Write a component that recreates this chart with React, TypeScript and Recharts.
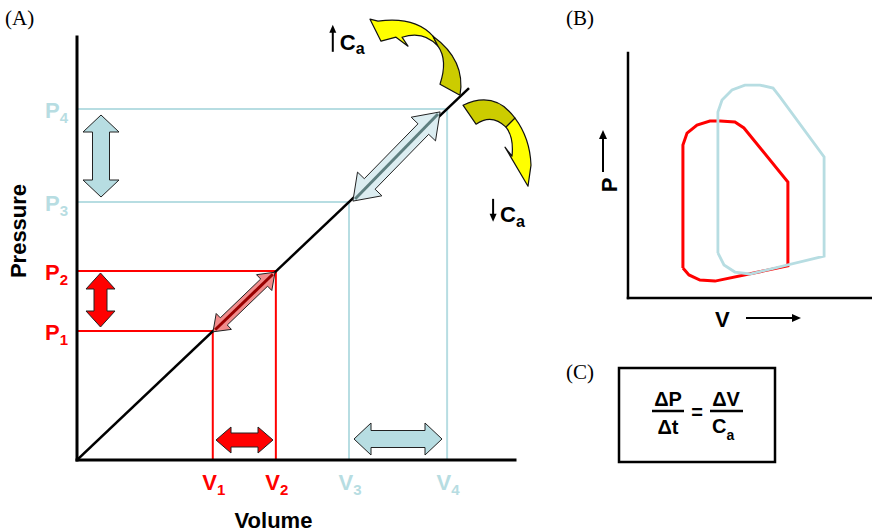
import React from 'react';
import {
  ComposedChart,
  LineChart,
  Line,
  XAxis,
  YAxis,
  ReferenceLine,
  ReferenceArea,
  ReferenceDot,
} from 'recharts';

// ---------- Panel A data (arbitrary units) ----------
const volumeLevels = [31.0, 45.4, 62.1, 84.5]; // V1..V4
const pressureLevels = [30.5, 44.7, 61.0, 83.0]; // P1..P4
const levelSubscripts = ['1', '2', '3', '4'];
const complianceLine = [
  { v: 0, p: 0 },
  { v: 89.5, p: 87.9 },
];

// ---------- Panel B data (P-V loops) ----------
const redLoop = [
  { x: 22.6, y: 12.2 },
  { x: 22.6, y: 62.4 },
  { x: 24.3, y: 67.3 },
  { x: 28.4, y: 70.6 },
  { x: 33.7, y: 72.2 },
  { x: 37.9, y: 72.2 },
  { x: 44.0, y: 71.8 },
  { x: 47.7, y: 69.4 },
  { x: 65.8, y: 47.3 },
  { x: 65.8, y: 13.1 },
  { x: 35.8, y: 6.9 },
  { x: 29.6, y: 7.3 },
  { x: 25.1, y: 9.4 },
  { x: 22.6, y: 12.2 },
];
const blueLoop = [
  { x: 37.0, y: 18.4 },
  { x: 37.0, y: 75.9 },
  { x: 38.7, y: 80.8 },
  { x: 42.8, y: 84.9 },
  { x: 48.1, y: 86.9 },
  { x: 54.3, y: 86.9 },
  { x: 59.7, y: 85.7 },
  { x: 62.6, y: 82.0 },
  { x: 80.7, y: 57.6 },
  { x: 80.7, y: 17.1 },
  { x: 50.2, y: 9.8 },
  { x: 44.0, y: 10.6 },
  { x: 39.5, y: 13.5 },
  { x: 37.0, y: 18.4 },
];

// ---------- styles ----------
const SANS = "'Liberation Sans', Arial, Helvetica, sans-serif";
const SERIF = "'Liberation Serif', 'Times New Roman', serif";
const RED = '#ff0000';
const BLUE = '#b7dde2';
const levelColors = [RED, RED, BLUE, BLUE];

const nearestIndex = (arr: number[], v: number) => {
  let best = 0;
  arr.forEach((a, i) => {
    if (Math.abs(a - v) < Math.abs(arr[best] - v)) best = i;
  });
  return best;
};

const YTick = (props: any) => {
  const { x, y, payload } = props;
  const i = nearestIndex(pressureLevels, Number(payload.value));
  return (
    <text x={x - 1} y={y + 9} textAnchor="end" fill={levelColors[i]} fontFamily={SANS} fontWeight="bold" fontSize={22}>
      P
      <tspan fontSize={15} dy={5}>
        {levelSubscripts[i]}
      </tspan>
    </text>
  );
};

const XTick = (props: any) => {
  const { x, y, payload } = props;
  const i = nearestIndex(volumeLevels, Number(payload.value));
  return (
    <text x={x + 1} y={y + 22} textAnchor="middle" fill={levelColors[i]} fontFamily={SANS} fontWeight="bold" fontSize={22}>
      V
      <tspan fontSize={15} dy={5}>
        {levelSubscripts[i]}
      </tspan>
    </text>
  );
};

function dblArrowPoints(ax: number, ay: number, bx: number, by: number, shaftW: number, headW: number, headL: number) {
  const dx = bx - ax;
  const dy = by - ay;
  const L = Math.hypot(dx, dy) || 1;
  const ux = dx / L;
  const uy = dy / L;
  const nx = -uy;
  const ny = ux;
  const p = (t: number, s: number) => [ax + ux * t + nx * s, ay + uy * t + ny * s];
  const pts = [
    p(0, 0),
    p(headL, headW / 2),
    p(headL, shaftW / 2),
    p(L - headL, shaftW / 2),
    p(L - headL, headW / 2),
    p(L, 0),
    p(L - headL, -headW / 2),
    p(L - headL, -shaftW / 2),
    p(headL, -shaftW / 2),
    p(headL, -headW / 2),
  ];
  return { pts: pts.map((q) => q.map((v) => v.toFixed(1)).join(',')).join(' '), p, L };
}

type ArrowOpts = {
  dir: 'v' | 'h' | 'd';
  fill: string;
  shaftW: number;
  headL: number;
  headW?: number;
  center?: string;
};

const makeArrow = (o: ArrowOpts) => (props: any) => {
  const { x, y, width, height } = props;
  if ([x, y, width, height].some((v) => typeof v !== 'number' || isNaN(v))) return <g />;
  let ax: number, ay: number, bx: number, by: number, headW: number;
  if (o.dir === 'v') {
    ax = bx = x + width / 2;
    ay = y + height;
    by = y;
    headW = width;
  } else if (o.dir === 'h') {
    ay = by = y + height / 2;
    ax = x;
    bx = x + width;
    headW = height;
  } else {
    ax = x;
    ay = y + height;
    bx = x + width;
    by = y;
    headW = o.headW || 20;
  }
  const { pts, p, L } = dblArrowPoints(ax, ay, bx, by, o.shaftW, headW, o.headL);
  const c1 = p(3, 0);
  const c2 = p(L - 3, 0);
  return (
    <g>
      <polygon points={pts} fill={o.fill} stroke="#222" strokeWidth={1} strokeLinejoin="miter" />
      {o.center && <line x1={c1[0]} y1={c1[1]} x2={c2[0]} y2={c2[1]} stroke={o.center} strokeWidth={3} />}
    </g>
  );
};

type Seg = [string, ...number[]];
const buildPath = (cx: number, cy: number, segs: Seg[]) =>
  segs
    .map(([c, ...n]) => c + ' ' + n.map((v, i) => (i % 2 === 0 ? cx + v : cy + v).toFixed(1)).join(' '))
    .join(' ');

const YELLOW = '#ffff00';
const OLIVE = '#cccc00';

const upperBright: Seg[] = [
  ['M', -99, -69],
  ['L', -88, -47],
  ['L', -73, -51],
  ['L', -61, -42],
  ['L', -67, -51],
  ['Q', -45, -58, -31, -42],
  ['L', -36, -52],
  ['Q', -54, -72, -91, -67],
  ['Z'],
];
const upperDark: Seg[] = [
  ['M', -36, -52],
  ['Q', -3, -28, -9, 7],
  ['L', -29, -4],
  ['Q', -21, -28, -31, -42],
  ['Z'],
];
const lowerDark: Seg[] = [
  ['M', -6, 17],
  ['Q', 26, 2, 46, 30],
  ['L', 37, 39],
  ['Q', 23, 25, 7, 36],
  ['Z'],
];
const lowerBright: Seg[] = [
  ['M', 46, 30],
  ['Q', 61, 50, 62, 77],
  ['L', 59, 98],
  ['L', 36, 59],
  ['L', 43, 68],
  ['Q', 45, 49, 37, 39],
  ['Z'],
];

const CurvedArrows = (props: any) => {
  const { cx, cy } = props;
  if (typeof cx !== 'number' || typeof cy !== 'number') return <g />;
  const common = { stroke: '#111', strokeWidth: 1.2, strokeLinejoin: 'round' as const };
  return (
    <g>
      <path d={buildPath(cx, cy, upperBright)} fill={YELLOW} {...common} />
      <path d={buildPath(cx, cy, upperDark)} fill={OLIVE} {...common} />
      <path d={buildPath(cx, cy, lowerDark)} fill={OLIVE} {...common} />
      <path d={buildPath(cx, cy, lowerBright)} fill={YELLOW} {...common} />
    </g>
  );
};

const CaUp = (props: any) => {
  const { cx, cy } = props;
  if (typeof cx !== 'number') return <g />;
  return (
    <g>
      <line x1={cx} y1={cy} x2={cx} y2={cy - 21} stroke="#000" strokeWidth={2} />
      <polygon points={`${cx - 3.5},${cy - 19} ${cx + 3.5},${cy - 19} ${cx},${cy - 27}`} fill="#000" />
      <text x={cx + 7} y={cy - 2} fontFamily={SANS} fontWeight="bold" fontSize={22} fill="#000">
        C
        <tspan fontSize={16} dy={4}>
          a
        </tspan>
      </text>
    </g>
  );
};

const CaDown = (props: any) => {
  const { cx, cy } = props;
  if (typeof cx !== 'number') return <g />;
  return (
    <g>
      <line x1={cx} y1={cy - 23} x2={cx} y2={cy - 6} stroke="#000" strokeWidth={2} />
      <polygon points={`${cx - 3.5},${cy - 8} ${cx + 3.5},${cy - 8} ${cx},${cy}`} fill="#000" />
      <text x={cx + 7} y={cy} fontFamily={SANS} fontWeight="bold" fontSize={22} fill="#000">
        C
        <tspan fontSize={16} dy={5}>
          a
        </tspan>
      </text>
    </g>
  );
};

const axisStroke = { stroke: '#000', strokeWidth: 3, strokeLinecap: 'square' as const };

const PanelA = () => {
  const [V1, V2, V3, V4] = volumeLevels;
  const [P1, P2, P3, P4] = pressureLevels;
  const guide = (v: number, p: number, color: string, k: string) => [
    <ReferenceLine
      key={k + 'h'}
      segment={[
        { x: 0, y: p },
        { x: v, y: p },
      ]}
      stroke={color}
      strokeWidth={2}
      ifOverflow="visible"
      zIndex={300}
    />,
    <ReferenceLine
      key={k + 'v'}
      segment={[
        { x: v, y: p },
        { x: v, y: 0 },
      ]}
      stroke={color}
      strokeWidth={2}
      ifOverflow="visible"
      zIndex={300}
    />,
  ];
  return (
    <ComposedChart width={560} height={532} margin={{ top: 37, right: 45, bottom: 42, left: 17 }}>
      <XAxis
        type="number"
        dataKey="v"
        domain={[0, 100]}
        allowDataOverflow
        ticks={volumeLevels}
        interval={0}
        tick={<XTick />}
        tickLine={false}
        tickSize={6}
        tickMargin={2}
        height={30}
        axisLine={axisStroke}
      />
      <YAxis
        type="number"
        domain={[0, 100]}
        allowDataOverflow
        ticks={pressureLevels}
        interval={0}
        tick={<YTick />}
        tickLine={false}
        tickSize={6}
        tickMargin={2}
        width={60}
        axisLine={axisStroke}
      />
      {guide(V4, P4, BLUE, 'g4')}
      {guide(V3, P3, BLUE, 'g3')}
      {guide(V2, P2, RED, 'g2')}
      {guide(V1, P1, RED, 'g1')}
      <Line
        data={complianceLine}
        dataKey="p"
        type="linear"
        stroke="#000"
        strokeWidth={2.5}
        dot={false}
        activeDot={false}
        isAnimationActive={false}
        zIndex={400}
      />
      {/* vertical pressure-change arrows */}
      <ReferenceArea
        x1={1.37}
        x2={9.59}
        y1={62.17}
        y2={81.56}
        ifOverflow="visible"
        zIndex={600}
        shape={makeArrow({ dir: 'v', fill: BLUE, shaftW: 17, headL: 17 })}
      />
      <ReferenceArea
        x1={2.05}
        x2={8.68}
        y1={31.44}
        y2={44.21}
        ifOverflow="visible"
        zIndex={600}
        shape={makeArrow({ dir: 'v', fill: RED, shaftW: 13, headL: 16 })}
      />
      {/* horizontal volume-change arrows */}
      <ReferenceArea
        x1={31.74}
        x2={44.75}
        y1={1.65}
        y2={7.8}
        ifOverflow="visible"
        zIndex={600}
        shape={makeArrow({ dir: 'h', fill: RED, shaftW: 14, headL: 15 })}
      />
      <ReferenceArea
        x1={63.24}
        x2={83.33}
        y1={1.18}
        y2={8.75}
        ifOverflow="visible"
        zIndex={600}
        shape={makeArrow({ dir: 'h', fill: BLUE, shaftW: 17, headL: 17 })}
      />
      {/* diagonal arrows along the compliance line */}
      <ReferenceArea
        x1={31.05}
        x2={45.2}
        y1={30.3}
        y2={44.4}
        ifOverflow="visible"
        zIndex={600}
        shape={makeArrow({ dir: 'd', fill: '#f28c8c', shaftW: 10, headL: 15, headW: 22, center: '#990000' })}
      />
      <ReferenceArea
        x1={63.0}
        x2={82.9}
        y1={61.2}
        y2={82.3}
        ifOverflow="visible"
        zIndex={600}
        shape={makeArrow({ dir: 'd', fill: '#dcedf1', shaftW: 15, headL: 24, headW: 34, center: '#5f7f80' })}
      />
      <ReferenceDot
        x={complianceLine[1].v}
        y={complianceLine[1].p}
        r={1}
        ifOverflow="visible"
        zIndex={650}
        shape={<CurvedArrows />}
      />
      <ReferenceDot x={58.4} y={96.5} r={1} ifOverflow="visible" zIndex={650} shape={<CaUp />} />
      <ReferenceDot x={95.0} y={56.3} r={1} ifOverflow="visible" zIndex={650} shape={<CaDown />} />
    </ComposedChart>
  );
};

const bAxis = { stroke: '#000', strokeWidth: 2.5, strokeLinecap: 'square' as const };

const PanelB = () => (
  <LineChart width={312} height={340} margin={{ top: 53, right: 1, bottom: 41, left: 67 }}>
    <XAxis
      type="number"
      dataKey="x"
      domain={[0, 100]}
      allowDataOverflow
      tick={false}
      tickLine={false}
      height={1}
      axisLine={bAxis}
    />
    <YAxis
      type="number"
      domain={[0, 100]}
      allowDataOverflow
      tick={false}
      tickLine={false}
      width={1}
      axisLine={bAxis}
    />
    <Line
      data={redLoop}
      dataKey="y"
      type="linear"
      stroke={RED}
      strokeWidth={3}
      dot={false}
      activeDot={false}
      isAnimationActive={false}
    />
    <Line
      data={blueLoop}
      dataKey="y"
      type="linear"
      stroke={BLUE}
      strokeWidth={2.8}
      dot={false}
      activeDot={false}
      isAnimationActive={false}
    />
  </LineChart>
);

const Overlay = () => (
  <svg width={872} height={532} style={{ position: 'absolute', left: 0, top: 0, pointerEvents: 'none' }}>
    <text x={5} y={25} fontFamily={SERIF} fontSize={21} fill="#000">
      (A)
    </text>
    <text x={566} y={25} fontFamily={SERIF} fontSize={21} fill="#000">
      (B)
    </text>
    <text x={566} y={379} fontFamily={SERIF} fontSize={21} fill="#000">
      (C)
    </text>
    {/* Panel A axis titles */}
    <text
      x={26}
      y={231}
      transform="rotate(-90 26 231)"
      textAnchor="middle"
      fontFamily={SANS}
      fontWeight="bold"
      fontSize={22}
      fill="#000"
    >
      Pressure
    </text>
    <text x={273.5} y={528} textAnchor="middle" fontFamily={SANS} fontWeight="bold" fontSize={22} fill="#000">
      Volume
    </text>
    {/* Panel B axis titles */}
    <text
      x={617}
      y={185}
      transform="rotate(-90 617 185)"
      textAnchor="middle"
      fontFamily={SANS}
      fontWeight="bold"
      fontSize={22}
      fill="#000"
    >
      P
    </text>
    <line x1={603} y1={172} x2={603} y2={137} stroke="#000" strokeWidth={2} />
    <polygon points="599,139 607,139 603,130" fill="#000" />
    <text x={715} y={327} fontFamily={SANS} fontWeight="bold" fontSize={22} fill="#000">
      V
    </text>
    <line x1={746} y1={318} x2={794} y2={318} stroke="#000" strokeWidth={2} />
    <polygon points="792,314 792,322 801,318" fill="#000" />
    {/* Panel C formula box */}
    <rect x={619} y={368} width={156} height={94} fill="#fff" stroke="#000" strokeWidth={2.5} />
    <text x={668} y={406} textAnchor="middle" fontFamily={SANS} fontWeight="bold" fontSize={20} fill="#000">
      ΔP
    </text>
    <line x1={652} y1={411} x2={684} y2={411} stroke="#000" strokeWidth={2.5} />
    <text x={668} y={434} textAnchor="middle" fontFamily={SANS} fontWeight="bold" fontSize={20} fill="#000">
      Δt
    </text>
    <text x={697} y={419} textAnchor="middle" fontFamily={SANS} fontWeight="bold" fontSize={20} fill="#000">
      =
    </text>
    <text x={726} y={406} textAnchor="middle" fontFamily={SANS} fontWeight="bold" fontSize={20} fill="#000">
      ΔV
    </text>
    <line x1={710} y1={411} x2={743} y2={411} stroke="#000" strokeWidth={2.5} />
    <text x={712} y={433} fontFamily={SANS} fontWeight="bold" fontSize={20} fill="#000">
      C
      <tspan fontSize={14} dy={7}>
        a
      </tspan>
    </text>
  </svg>
);

export default function App() {
  return (
    <div style={{ position: 'absolute', left: 0, top: 0, width: 872, height: 532, background: '#fff', overflow: 'hidden' }}>
      <div style={{ position: 'absolute', left: 0, top: 0 }}>
        <PanelA />
      </div>
      <div style={{ position: 'absolute', left: 560, top: 0 }}>
        <PanelB />
      </div>
      <Overlay />
    </div>
  );
}
